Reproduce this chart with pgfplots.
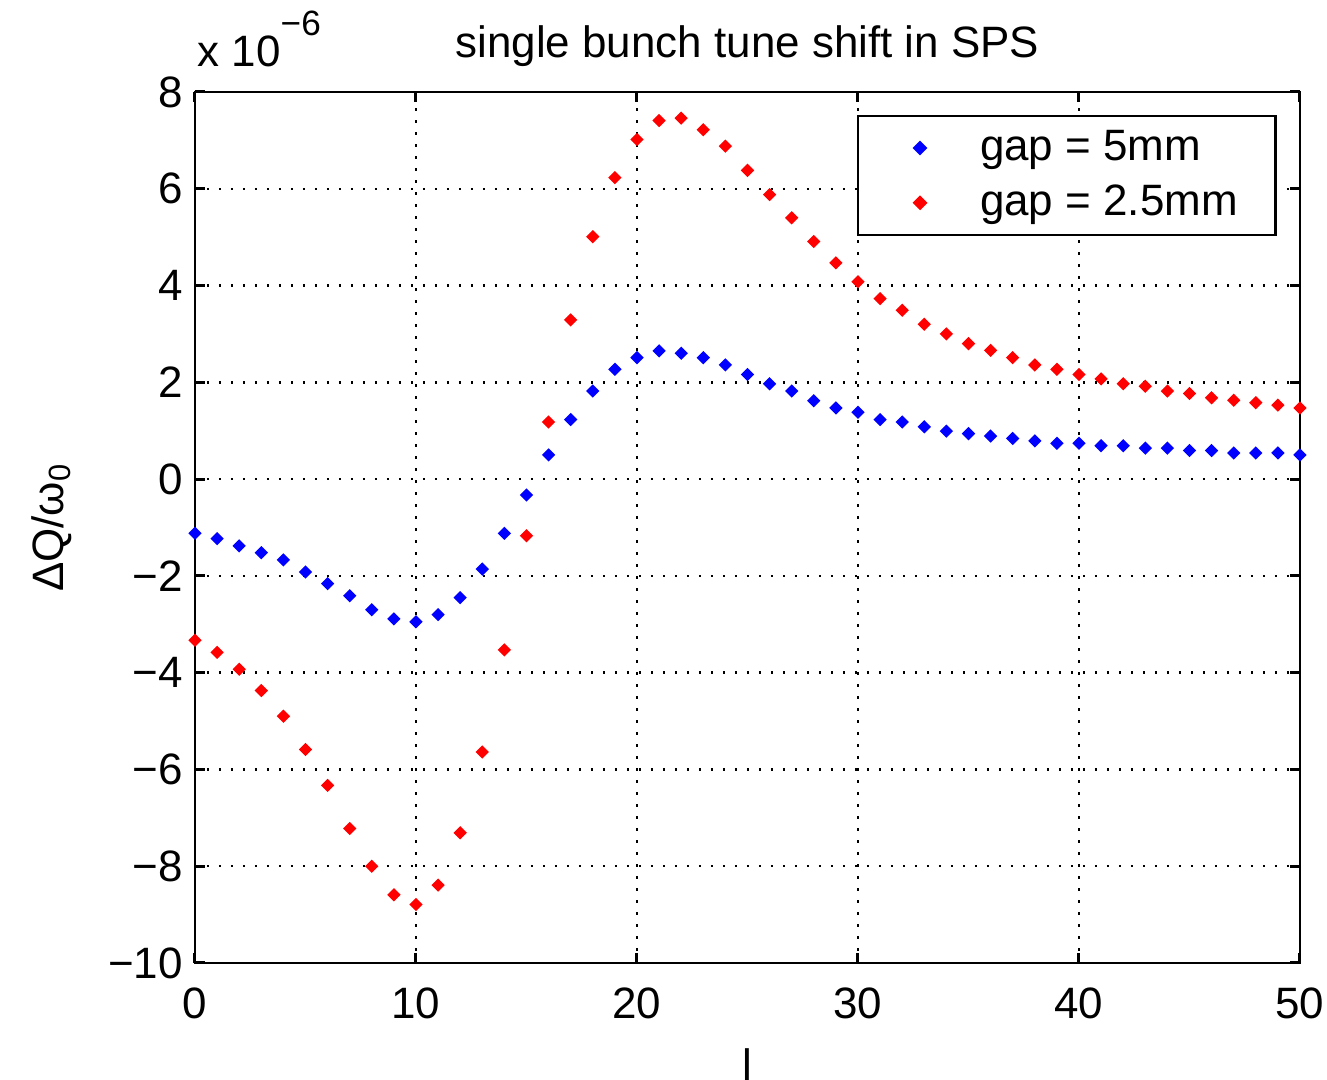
\documentclass[border=0pt]{standalone}
\usepackage{fontspec}
\setmainfont{Liberation Sans}
\usepackage{pgfplots}
\pgfplotsset{compat=1.18}

\pgfplotstableread{
l   gap5   gap25
0  -1.12  -3.33
1  -1.23  -3.58
2  -1.38  -3.93
3  -1.52  -4.37
4  -1.67  -4.90
5  -1.92  -5.59
6  -2.16  -6.33
7  -2.41  -7.22
8  -2.70  -8.00
9  -2.89  -8.59
10 -2.95  -8.79
11 -2.80  -8.39
12 -2.45  -7.31
13 -1.86  -5.64
14 -1.12  -3.53
15 -0.33  -1.17
16  0.50   1.18
17  1.23   3.29
18  1.82   5.01
19  2.27   6.23
20  2.51   7.02
21  2.65   7.41
22  2.60   7.46
23  2.51   7.22
24  2.36   6.88
25  2.16   6.38
26  1.97   5.88
27  1.82   5.40
28  1.62   4.91
29  1.47   4.47
30  1.38   4.08
31  1.23   3.73
32  1.18   3.49
33  1.08   3.20
34  0.99   3.00
35  0.94   2.80
36  0.89   2.66
37  0.84   2.51
38  0.79   2.36
39  0.74   2.27
40  0.74   2.16
41  0.69   2.07
42  0.69   1.97
43  0.64   1.92
44  0.64   1.82
45  0.59   1.77
46  0.59   1.68
47  0.54   1.63
48  0.54   1.58
49  0.54   1.53
50  0.50   1.47
}\tunedata

\begin{document}
\begin{tikzpicture}
\begin{axis}[
    scale only axis,
    width=110.5mm, height=87.1mm,
    xmin=0, xmax=50, ymin=-10, ymax=8,
    xtick={0,10,...,50},
    ytick={-10,-8,...,8},
    yticklabels={−10,−8,−6,−4,−2,0,2,4,6,8},
    /pgf/number format/assume math mode=true,
    grid=major,
    major grid style={black, line width=0.25mm, dash pattern=on 0.25mm off 0.95mm},
    tick align=inside,
    major tick length=1mm,
    tick style={black, line width=0.3mm},
    axis line style={line width=0.25mm},
    ticklabel style={font=\fontsize{12.5}{14}\selectfont},
    xticklabel style={yshift=-1.2mm},
    title={single bunch tune shift in SPS},
    title style={font=\fontsize{12.5}{14}\selectfont, yshift=-0.8mm},
    xlabel={l},
    xlabel style={font=\fontsize{12.5}{14}\selectfont, yshift=-0.6mm},
    ylabel={ΔQ/ω\textsubscript{0}},
    ylabel style={font=\fontsize{12.5}{14}\selectfont, yshift=1.2mm},
    legend style={at={(1,1)}, anchor=north east, xshift=-2.3mm, yshift=-2.3mm,
        draw=black, line width=0.25mm, font=\fontsize{12.5}{14}\selectfont,
        inner xsep=3.1mm, inner ysep=0.7mm, row sep=0.5mm},
    legend cell align=left,
    legend image code/.code={\path[draw=none, fill=none] (0mm,0mm) -- (8.4mm,0mm);
        \draw[#1] plot coordinates {(3.1mm,0mm)};},
]
\addplot[only marks, mark=square*, mark options={rotate=45}, mark size=0.4mm, color=blue] table[x=l, y=gap5] {\tunedata};
\addlegendentry{gap = 5mm}
\addplot[only marks, mark=square*, mark options={rotate=45}, mark size=0.4mm, color=red] table[x=l, y=gap25] {\tunedata};
\addlegendentry{gap = 2.5mm}
\end{axis}
\node[anchor=base west, inner sep=0pt, font=\fontsize{12.5}{14}\selectfont]
    at ([xshift=0.2mm, yshift=2.5mm]current axis.north west) {x 10\raisebox{3.1mm}{\fontsize{10}{12}\selectfont −6}};
\pgfresetboundingbox
\useasboundingbox (-19.5mm,-11.7mm) rectangle (113.2mm,96.3mm);
\end{tikzpicture}
\end{document}
